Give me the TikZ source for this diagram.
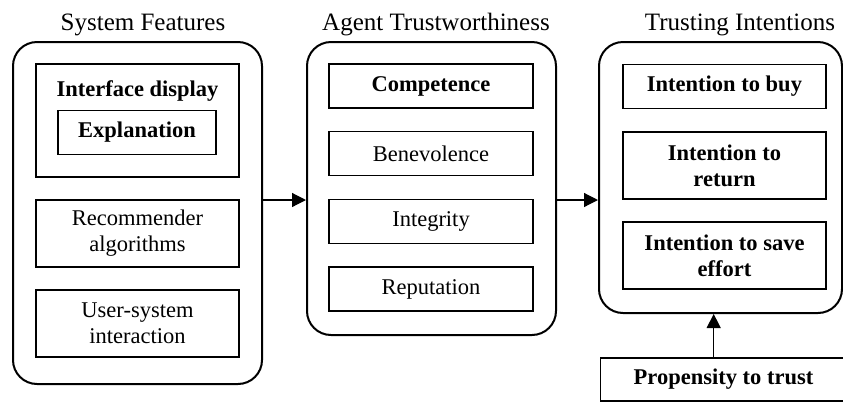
\documentclass[tikz,border=0pt]{standalone}
\usepackage{fontspec}
\setmainfont{Liberation Serif}
\usetikzlibrary{arrows.meta}

\tikzset{
    group/.style={draw, line width=1pt, rounded corners=12pt,
                  minimum width=124.5pt, inner sep=0pt},
    box/.style={draw, line width=0.75pt, minimum width=101.5pt,
                minimum height=22pt, inner sep=0pt, align=center,
                font=\fontsize{11.25}{13}\selectfont},
    title/.style={anchor=base, font=\fontsize{12.5}{14}\selectfont},
    link/.style={line width=0.6pt, -{Triangle[length=7pt,width=7pt]}}
}

\begin{document}
\begin{tikzpicture}[x=0.5pt, y=-0.5pt]
            \useasboundingbox (0,0) rectangle (843,403);

            % the three groups
            \node[group, minimum height=171pt]   (sf) at (137.5,213)   {};
            \node[group, minimum height=146.5pt] (at) at (431.5,188.5) {};
            \node[group, minimum width=121.5pt,
                  minimum height=135.5pt]        (ti) at (720.5,177.5) {};

            \node[title] (sfT) at (143,30.5) {System Features};
            \node[title] (atT) at (436,30.5) {Agent Trustworthiness};
            \node[title] (tiT) at (740,30.5) {Trusting Intentions};

            % system features
            \node[box, minimum height=56.5pt] (disp) at (137.5,120.5) {};
            \node[box, draw=none, anchor=base, font=\fontsize{11.25}{13}\bfseries]
                (dispT) at (137.5,96.5) {Interface display};
            \node[box, minimum width=79pt, font=\fontsize{11.25}{13}\bfseries]
                (expl) at (137,132.5) {Explanation};
            \node[box, minimum height=33.5pt] (algo) at (137.5,233.5) {Recommender\\algorithms};
            \node[box, minimum height=33.5pt] (inter) at (137.5,323.5) {User-system\\interaction};

            % agent trustworthiness
            \node[box, minimum width=102pt, font=\fontsize{11.25}{13}\bfseries]
                (comp) at (431,86) {Competence};
            \node[box, minimum width=102pt] (bene)  at (431,153.5) {Benevolence};
            \node[box, minimum width=102pt] (integ) at (431,221.5) {Integrity};
            \node[box, minimum width=102pt] (repu)  at (431,289)   {Reputation};

            % trusting intentions
            \node[box, font=\fontsize{11.25}{13}\bfseries] (buy) at (724.5,86.5) {Intention to buy};
            \node[box, minimum height=33.5pt, font=\fontsize{11.25}{13}\bfseries]
                (ret) at (724.5,165.5) {Intention to\\return};
            \node[box, minimum height=33.5pt, font=\fontsize{11.25}{13}\bfseries]
                (save) at (724.5,255.5) {Intention to save\\effort};

            \node[box, minimum width=123pt, minimum height=21.5pt, font=\fontsize{11.25}{13}\bfseries]
                (prop) at (723.5,379.5) {Propensity to trust};

            \coordinate (row) at (0,200);
            \coordinate (col) at (713.7,0);

            \draw[link] (sf.east |- row) -- (at.west |- row);
            \draw[link] (at.east |- row) -- (ti.west |- row);
            \draw[link] (prop.north -| col) -- (ti.south -| col);
\end{tikzpicture}
\end{document}
